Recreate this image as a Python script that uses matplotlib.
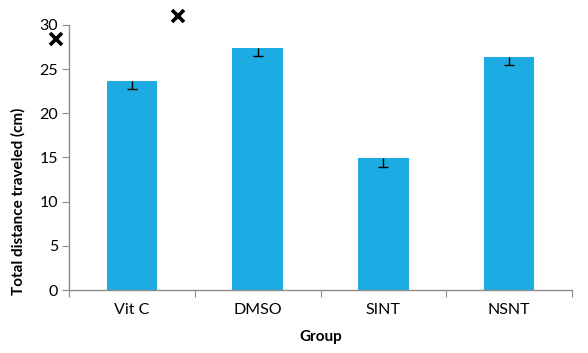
import matplotlib
matplotlib.use("Agg")
import matplotlib.pyplot as plt
import numpy as np

groups = ["Vit C", "DMSO", "SINT", "NSNT"]
distance = [23.7, 27.4, 14.9, 26.4]
err_minus = [1.0, 0.9, 1.0, 0.9]
marker_x = [-0.605, 0.366]
marker_y = [28.4, 31.0]
yticks = [0, 5, 10, 15, 20, 25, 30]

plt.rcParams['font.family'] = ['Lato', 'DejaVu Sans']

fig = plt.figure(figsize=(5.88, 3.53), dpi=100)
ax = fig.add_axes([69/588, 1-290/353, (572-69)/588, (290-25)/353])

x = np.arange(len(groups))
d = np.array(distance)
e = np.array(err_minus)
ax.bar(x, d, width=0.4, color='#1CACE3', zorder=2)
ax.vlines(x, d - e, d, color='black', linewidth=1, zorder=3)
ax.hlines(d - e, x - 0.04, x + 0.04, color='black', linewidth=1, zorder=3)
ax.plot(marker_x, marker_y, linestyle='none', marker='x', markersize=9,
        markeredgewidth=2.6, color='black', clip_on=False, zorder=4)

ax.set_xlim(-0.5, len(groups) - 0.5)
ax.set_ylim(0, 30)
ax.set_yticks(yticks)
ax.set_xticks(np.arange(len(groups) + 1) - 0.5)
ax.set_xticklabels([])
ax.set_xticks(x, minor=True)
ax.set_xticklabels(groups, minor=True)
ax.tick_params(axis='x', which='minor', length=0, pad=9, labelsize=11.5)
ax.tick_params(axis='x', which='major', length=5, color='#8c8c8c', direction='out')
ax.tick_params(axis='y', length=5, color='#8c8c8c', labelsize=11.5, pad=3)

for s in ['top', 'right']:
    ax.spines[s].set_visible(False)
for s in ['left', 'bottom']:
    ax.spines[s].set_color('#8c8c8c')
    ax.spines[s].set_linewidth(1)

ax.set_xlabel("Group", fontweight='bold', fontsize=11, labelpad=10)
ax.set_ylabel("Total distance traveled (cm)", fontweight='bold', fontsize=11)
ax.yaxis.set_label_coords((26 - 69) / (572 - 69), (290 - 201) / 265)

fig.savefig("out.png", dpi=100, facecolor='white')
